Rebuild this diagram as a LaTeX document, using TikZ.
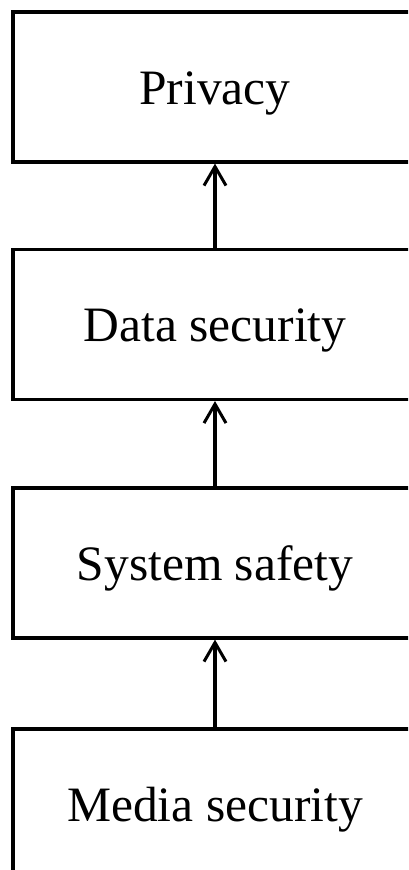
\documentclass[tikz,border=0pt]{standalone}
\usepackage{fontspec}
\setmainfont{Liberation Serif}
\usetikzlibrary{arrows.meta}
\begin{document}
\begin{tikzpicture}[x=1pt,y=1pt,
  layer/.style={draw, line width=3.2pt, rectangle, minimum width=404pt, minimum height=150pt,
    inner sep=0pt, text height=34pt, text depth=0pt, font=\fontsize{49.5}{55}\selectfont},
  uparrow/.style={line width=3.2pt, -{Straight Barb[length=19pt, width=22pt, line width=3pt]}}]
  \useasboundingbox (0,0) rectangle (408,-870);
  \clip (0,0) rectangle (408,-870);
  \node[layer] (privacy) at (215,-87) {Privacy};
  \node[layer] (data)    at (215,-324.5) {Data security};
  \node[layer] (system)  at (215,-563) {System safety};
  \node[layer] (media)   at (215,-804) {Media security};
  \draw[uparrow] (data.north) -- (privacy.south);
  \draw[uparrow] (system.north) -- (data.south);
  \draw[uparrow] (media.north) -- (system.south);
\end{tikzpicture}
\end{document}
